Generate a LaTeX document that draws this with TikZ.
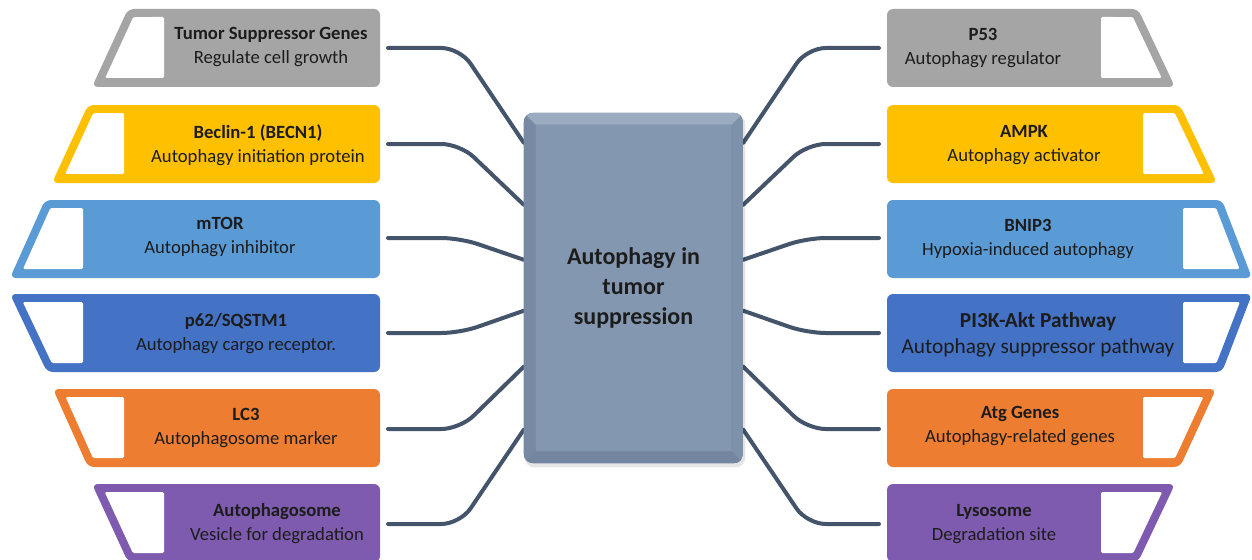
\documentclass[tikz,border=0pt]{standalone}
\usepackage{fontspec}
\setmainfont{Carlito}
\usetikzlibrary{calc,backgrounds}
\definecolor{cgray}{HTML}{A5A5A5}
\definecolor{cyellow}{HTML}{FFC000}
\definecolor{clblue}{HTML}{5B9BD5}
\definecolor{cdblue}{HTML}{4472C4}
\definecolor{corange}{HTML}{ED7D31}
\definecolor{cpurple}{HTML}{7E5BAE}
\definecolor{cconn}{HTML}{44546A}
\definecolor{hubface}{HTML}{8497B0}
\definecolor{hubtop}{HTML}{9BABC0}
\definecolor{hubleft}{HTML}{7789A3}
\definecolor{hubright}{HTML}{7E91AB}
\definecolor{hubbottom}{HTML}{73859F}
\definecolor{txt}{HTML}{1C1C1C}
\newcommand{\rowshape}[5]{%
  \fill[#5, rounded corners=4.5pt] (#2,#1) -- (380,#1) -- (380,#1+78) -- (#3,#1+78) -- cycle;
  \fill[white, rounded corners=1pt] ($(#2,#1)!0.1026!(#3,#1+78)+(9,0)$) -- (#4,#1+8) -- (#4,#1+69) -- ($(#2,#1)!0.8846!(#3,#1+78)+(9,0)$) -- cycle;
}
\tikzset{
  lbl/.style={align=center, text=txt, font=\fontsize{14}{18}\selectfont, inner sep=0pt},
  lblbig/.style={align=center, text=txt, font=\fontsize{16}{19.5}\selectfont, inner sep=0pt},
  conn/.style={draw=cconn, line width=3pt, line cap=round, rounded corners=14pt},
  hubnode/.style={minimum width=164.25pt, minimum height=262.5pt, inner sep=0pt, align=center, text=txt, font=\fontsize{18}{22.5}\selectfont\bfseries}
}
\begin{document}
\begin{tikzpicture}[x=0.75pt,y=-0.75pt]
\useasboundingbox (0,0) rectangle (1252,560);
% left shapes
\rowshape{9}{128}{92}{164}{cgray}
\rowshape{105}{88}{52}{124}{cyellow}
\rowshape{200}{45}{10}{83}{clblue}
\rowshape{294}{10}{47}{83}{cdblue}
\rowshape{389}{53}{88}{124}{corange}
\rowshape{484}{92}{128}{164}{cpurple}
% right shapes (mirrored)
\begin{scope}[shift={(1267,0)},xscale=-1]
\rowshape{9}{129}{92}{166}{cgray}
\rowshape{105}{87}{50}{124}{cyellow}
\rowshape{200}{45}{15}{84}{clblue}
\rowshape{294}{15}{45}{84}{cdblue}
\rowshape{389}{51}{87}{124}{corange}
\rowshape{484}{92}{129}{166}{cpurple}
\end{scope}
% labels left
\node[lbl] (l1) at (271,47) {\textbf{Tumor Suppressor Genes}\\Regulate cell growth};
\node[lbl] (l2) at (258,145) {\textbf{Beclin-1 (BECN1)}\\Autophagy initiation protein};
\node[lbl] (l3) at (220,237) {\textbf{mTOR}\\Autophagy inhibitor};
\node[lbl] (l4) at (236,334) {\textbf{p62/SQSTM1}\\Autophagy cargo receptor.};
\node[lbl] (l5) at (246,428) {\textbf{LC3}\\Autophagosome marker};
\node[lbl] (l6) at (277,524) {\textbf{Autophagosome}\\Vesicle for degradation};
% labels right
\node[lbl] (r1) at (983,48) {\textbf{P53}\\Autophagy regulator};
\node[lbl] (r2) at (1024,145) {\textbf{AMPK}\\Autophagy activator};
\node[lbl] (r3) at (1028,239) {\textbf{BNIP3}\\Hypoxia-induced autophagy};
\node[lblbig] (r4) at (1038,335) {\textbf{PI3K-Akt Pathway}\\Autophagy suppressor pathway};
\node[lbl] (r5) at (1020,426) {\textbf{Atg Genes}\\Autophagy-related genes};
\node[lbl] (r6) at (994,524) {\textbf{Lysosome}\\Degradation site};
% hub
\node[hubnode] (hub) at (633.5,288) {Autophagy in\\tumor\\suppression};
\begin{scope}[on background layer]
  \fill[white] (0,0) rectangle (1252,560);
  \foreach \y/\e [count=\i] in {48/30,144/92,238/147,333/198,429/254,524/317} {
    \coordinate (L\i) at (388,\y);
    \coordinate (H\i) at ($(hub.north west)+(0,\e)$);
    \draw[conn] (L\i) -- ++(72,0) -- (H\i);
    \coordinate (R\i) at (879,\y);
    \coordinate (G\i) at ($(hub.north east)+(0,\e)$);
    \draw[conn] (R\i) -- ++(-72,0) -- (G\i);
  }
  \fill[black, opacity=0.10, rounded corners=7pt] ($(hub.south west)+(1,4)$) rectangle ($(hub.north east)+(2,2)$);
  \begin{scope}
    \clip[rounded corners=7pt] (hub.south west) rectangle (hub.north east);
    \fill[hubright] (hub.south west) rectangle (hub.north east);
    \fill[hubleft] (hub.north west) -- ($(hub.north west)+(12,12)$) -- ($(hub.south west)+(12,-12)$) -- (hub.south west) -- cycle;
    \fill[hubtop] (hub.north west) -- (hub.north east) -- ($(hub.north east)+(-12,12)$) -- ($(hub.north west)+(12,12)$) -- cycle;
    \fill[hubbottom] (hub.south west) -- (hub.south east) -- ($(hub.south east)+(-12,-12)$) -- ($(hub.south west)+(12,-12)$) -- cycle;
    \fill[hubface] ($(hub.north west)+(12,12)$) rectangle ($(hub.south east)+(-12,-12)$);
  \end{scope}
\end{scope}
\end{tikzpicture}
\end{document}
